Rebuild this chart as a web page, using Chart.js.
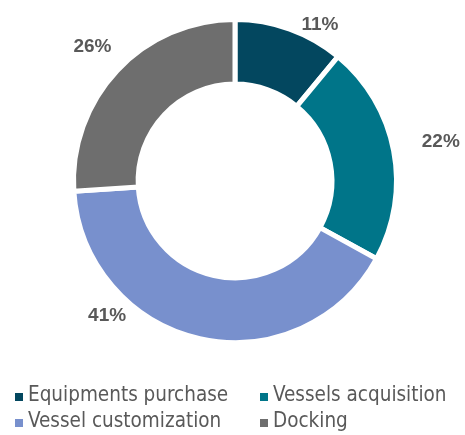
<!DOCTYPE html>
<html>
<head>
<meta charset="utf-8">
<script src="https://cdn.jsdelivr.net/npm/chart.js@4/dist/chart.umd.min.js"></script>
<style>
  html, body { margin: 0; padding: 0; background: #fff; }
  #wrap { position: relative; width: 465px; height: 435px; overflow: hidden; }
  #chart { position: absolute; left: 0; top: 0; }
  #legend {
    position: absolute; left: 15px; top: 383px;
    display: grid; grid-template-columns: 245px 200px; row-gap: 3px;
    font-family: "DejaVu Sans Condensed", "DejaVu Sans", sans-serif;
    font-stretch: condensed; font-size: 20.5px; color: #595959; line-height: 23px;
  }
  .item { display: flex; align-items: center; white-space: nowrap; }
  .box { width: 8px; height: 8px; margin-right: 5px; margin-top: 4px; }
</style>
</head>
<body>
<div id="wrap">
  <canvas id="chart" width="465" height="435"></canvas>
  <div id="legend"></div>
</div>
<script>
const categories = ['Equipments purchase', 'Vessels acquisition', 'Vessel customization', 'Docking'];
const shares = [11, 22, 41, 26];
const colors = ['#03475F', '#007589', '#7890CD', '#6E6E6E'];

// label placement: angle shift (deg) and distance beyond the ring
const labelShift = [8.8, 0, 31, 0];
const labelExtra = [16, 48, 24, 34];

const pctLabels = {
  id: 'pctLabels',
  afterDatasetsDraw(chart) {
    const ctx = chart.ctx;
    const meta = chart.getDatasetMeta(0);
    ctx.save();
    ctx.font = 'bold 19px "Liberation Sans", Arial, sans-serif';
    ctx.fillStyle = '#595959';
    ctx.textAlign = 'center';
    ctx.textBaseline = 'middle';
    meta.data.forEach((arc, i) => {
      const p = arc.getProps(['x', 'y', 'startAngle', 'endAngle', 'outerRadius'], true);
      const a = (p.startAngle + p.endAngle) / 2 + labelShift[i] * Math.PI / 180;
      const r = p.outerRadius + labelExtra[i];
      ctx.fillText(shares[i] + '%', p.x + Math.cos(a) * r, p.y + Math.sin(a) * r);
    });
    ctx.restore();
  }
};

new Chart(document.getElementById('chart'), {
  type: 'doughnut',
  data: {
    labels: categories,
    datasets: [{
      data: shares,
      backgroundColor: colors,
      borderColor: '#ffffff',
      borderWidth: 5,
      hoverOffset: 0,
      offset: 0
    }]
  },
  options: {
    responsive: false,
    animation: false,
    cutout: '60%',
    layout: { padding: { left: 71, right: 66, top: 17, bottom: 90 } },
    plugins: { legend: { display: false }, tooltip: { enabled: false } },
    events: []
  },
  plugins: [pctLabels]
});

document.getElementById('legend').innerHTML = categories.map((name, i) =>
  `<div class="item"><span class="box" style="background:${colors[i]}"></span>${name}</div>`
).join('');
</script>
</body>
</html>
